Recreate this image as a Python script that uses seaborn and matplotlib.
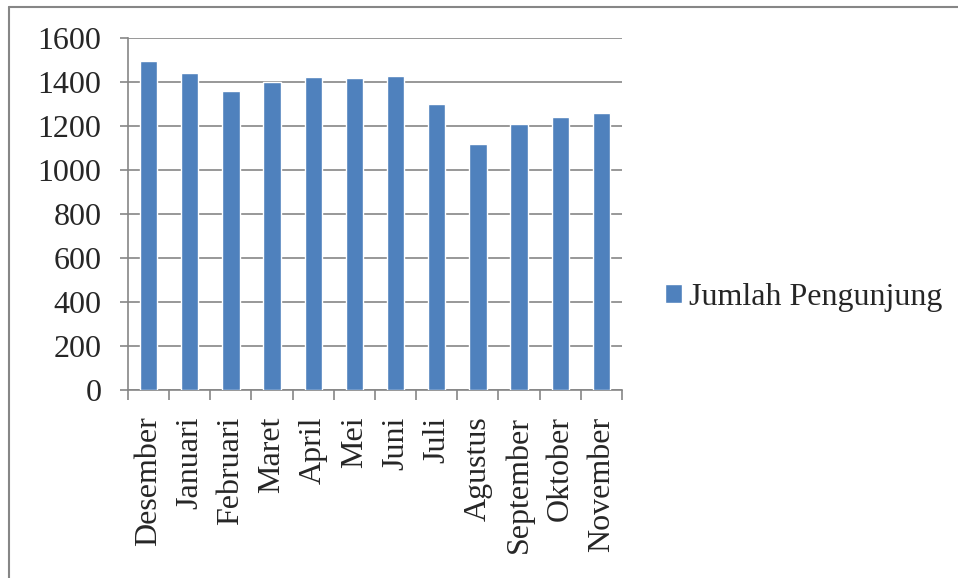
import numpy as np
import pandas as pd
import matplotlib
matplotlib.use('Agg')
import matplotlib.pyplot as plt
import seaborn as sns
from matplotlib.lines import Line2D

# data
bulan = ['Desember', 'Januari', 'Februari', 'Maret', 'April', 'Mei',
         'Juni', 'Juli', 'Agustus', 'September', 'Oktober', 'November']
pengunjung = [1494, 1440, 1360, 1400, 1424, 1416,
              1428, 1298, 1120, 1211, 1239, 1257]
y_ticks = [0, 200, 400, 600, 800, 1000, 1200, 1400, 1600]
series_label = 'Jumlah Pengunjung'

df = pd.DataFrame({'bulan': bulan, 'jumlah': pengunjung})

sns.set_style('white')
plt.rcParams['font.family'] = ['Liberation Serif', 'DejaVu Serif']

grey = '#868686'
blue = '#4F81BD'
fs = 23

fig = plt.figure(figsize=(9.58, 5.78), dpi=100)
ax = fig.add_axes([128/958, 1 - 390/578, (622 - 128)/958, (390 - 38)/578])

sns.barplot(data=df, x='bulan', y='jumlah', color=blue, width=0.42,
            saturation=1, label=series_label, ax=ax, zorder=3)

ax.set_xlim(-0.5, len(bulan) - 0.5)
ax.set_ylim(0, 1600)
ax.set_yticks(y_ticks)
ax.set_yticklabels([str(v) for v in y_ticks], fontsize=fs)
ax.set_xticks(range(len(bulan)))
ax.set_xticklabels(bulan, rotation=90, fontsize=fs)
ax.set_xlabel('')
ax.set_ylabel('')

# gridlines like excel
ax.yaxis.grid(True, color=grey, linewidth=1.2, zorder=0)
ax.set_axisbelow(True)

for s in ['top', 'right']:
    ax.spines[s].set_visible(False)
for s in ['left', 'bottom']:
    ax.spines[s].set_color(grey)
    ax.spines[s].set_linewidth(1.2)

# ticks: y outward, x at category boundaries
ax.tick_params(axis='y', direction='out', length=6, width=1.2, color=grey,
               pad=13, left=True)
ax.tick_params(axis='x', which='major', length=0, pad=19)
ax.set_xticks(np.arange(-0.5, len(bulan), 1), minor=True)
ax.tick_params(axis='x', which='minor', direction='out', length=7, width=1.2,
               color=grey, bottom=True)

handles, labels = ax.get_legend_handles_labels()
if ax.get_legend() is not None:
    ax.get_legend().remove()
fig.legend(handles, labels, loc='center left', bbox_to_anchor=(0.664, 0.486),
           frameon=False, fontsize=fs, handlelength=0.55, handleheight=0.55,
           handletextpad=0.2)

# outer frame (only top and left visible in the reference)
fig.add_artist(Line2D([9/958, 9/958], [0, 1 - 7/578], color=grey, linewidth=1.5))
fig.add_artist(Line2D([9/958, 1], [1 - 7/578, 1 - 7/578], color=grey, linewidth=1.5))

fig.savefig('out.png', dpi=100)
